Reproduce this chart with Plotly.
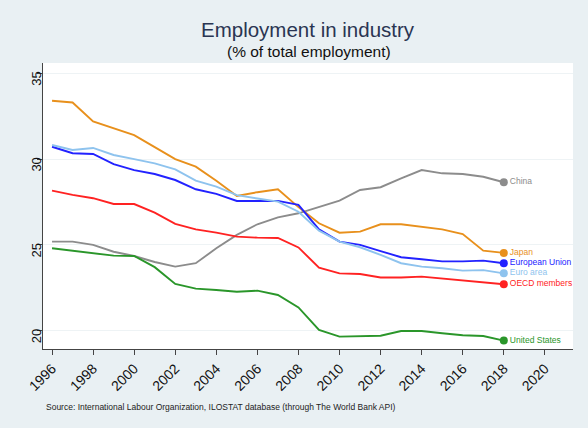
import plotly.graph_objects as go

years = list(range(1996, 2019))

japan = [33.4, 33.3, 32.2, 31.8, 31.4, 30.7, 30.0, 29.56, 28.74, 27.85, 28.07, 28.24, 27.2,
         26.26, 25.71, 25.77, 26.2, 26.2, 26.06, 25.9, 25.63, 24.66, 24.53]
china = [25.19, 25.19, 25.0, 24.6, 24.35, 24.0, 23.73, 23.93, 24.8, 25.58, 26.2, 26.6, 26.84,
         27.2, 27.58, 28.2, 28.36, 28.88, 29.36, 29.17, 29.13, 28.97, 28.65]
eu = [30.72, 30.34, 30.3, 29.7, 29.36, 29.13, 28.78, 28.24, 27.97, 27.56, 27.56, 27.56, 27.33,
      25.9, 25.19, 25.0, 24.64, 24.28, 24.16, 24.04, 24.04, 24.08, 23.93]
euro_area = [30.82, 30.53, 30.65, 30.24, 30.0, 29.75, 29.4, 28.74, 28.39, 27.9, 27.7, 27.52, 26.93,
             25.83, 25.19, 24.86, 24.41, 23.93, 23.73, 23.64, 23.5, 23.53, 23.34]
oecd = [28.16, 27.91, 27.72, 27.38, 27.38, 26.88, 26.22, 25.9, 25.71, 25.48, 25.42, 25.4, 24.85,
        23.67, 23.34, 23.3, 23.1, 23.1, 23.15, 23.03, 22.91, 22.82, 22.7]
us = [24.8, 24.66, 24.5, 24.37, 24.35, 23.7, 22.72, 22.45, 22.37, 22.27, 22.33, 22.08, 21.35,
      20.04, 19.65, 19.69, 19.7, 19.98, 19.98, 19.85, 19.73, 19.69, 19.42]

series = [
    ("China", china, "#8c8c8c"),
    ("Japan", japan, "#e8901c"),
    ("European Union", eu, "#2222ff"),
    ("Euro area", euro_area, "#8ec3ee"),
    ("OECD members", oecd, "#ff2222"),
    ("United States", us, "#2a962a"),
]

x_ticks = list(range(1996, 2021, 2))
y_ticks = [20, 25, 30, 35]

fig = go.Figure()
for name, vals, col in series:
    fig.add_trace(go.Scatter(x=years, y=vals, mode="lines", name=name,
                             line=dict(color=col, width=1.9), showlegend=False))
    fig.add_trace(go.Scatter(x=[years[-1]], y=[vals[-1]], mode="markers+text",
                             text=[name], textposition="middle right", cliponaxis=False,
                             textfont=dict(color=col, size=8.5, family="Liberation Sans"),
                             marker=dict(color=col, size=8), showlegend=False))

L, R, T, B = 43, 15, 63, 79
H = 428 - T - B
W = 588 - L - R
def py(ypix):
    return (428 - B - ypix) / H
def px(xpix):
    return (xpix - L) / W

fig.update_layout(
    width=588, height=428,
    paper_bgcolor="#e9f0f3", plot_bgcolor="#ffffff",
    margin=dict(l=L, r=R, t=T, b=B),
    font=dict(family="Liberation Sans", color="#111111"),
    annotations=[
        dict(text="Employment in industry", x=px(308), y=py(30), xref="paper", yref="paper",
             xanchor="center", yanchor="middle",
             showarrow=False, font=dict(size=20.5, color="#2a3552")),
        dict(text="(% of total employment)", x=px(309), y=py(51), xref="paper", yref="paper",
             xanchor="center", yanchor="middle",
             showarrow=False, font=dict(size=15.5, color="#111111")),
        dict(text="Source: International Labour Organization, ILOSTAT database (through The World Bank API)",
             x=px(44), y=py(407), xref="paper", yref="paper", xanchor="left", yanchor="middle",
             showarrow=False, font=dict(size=8.5, color="#222222")),
    ],
)

fig.update_xaxes(range=[1995.56, 2021.37], tickvals=x_ticks, ticktext=[str(t) for t in x_ticks],
                 tickangle=-45, tickfont=dict(size=14), ticks="outside", ticklen=5,
                 tickcolor="#444444", showline=True, linecolor="#444444", linewidth=1,
                 showgrid=False, zeroline=False, automargin=False)
fig.update_yaxes(range=[18.93, 35.6], tickvals=y_ticks, tickangle=-89.9, tickfont=dict(size=13),
                 ticks="outside", ticklen=5, tickcolor="#444444", showline=True,
                 linecolor="#444444", linewidth=1, showgrid=True, gridcolor="#eef3f5",
                 gridwidth=1, zeroline=False, automargin=False)

fig.write_html("out.html", config={"displayModeBar": False},
               post_script="document.body.style.margin='0';")
